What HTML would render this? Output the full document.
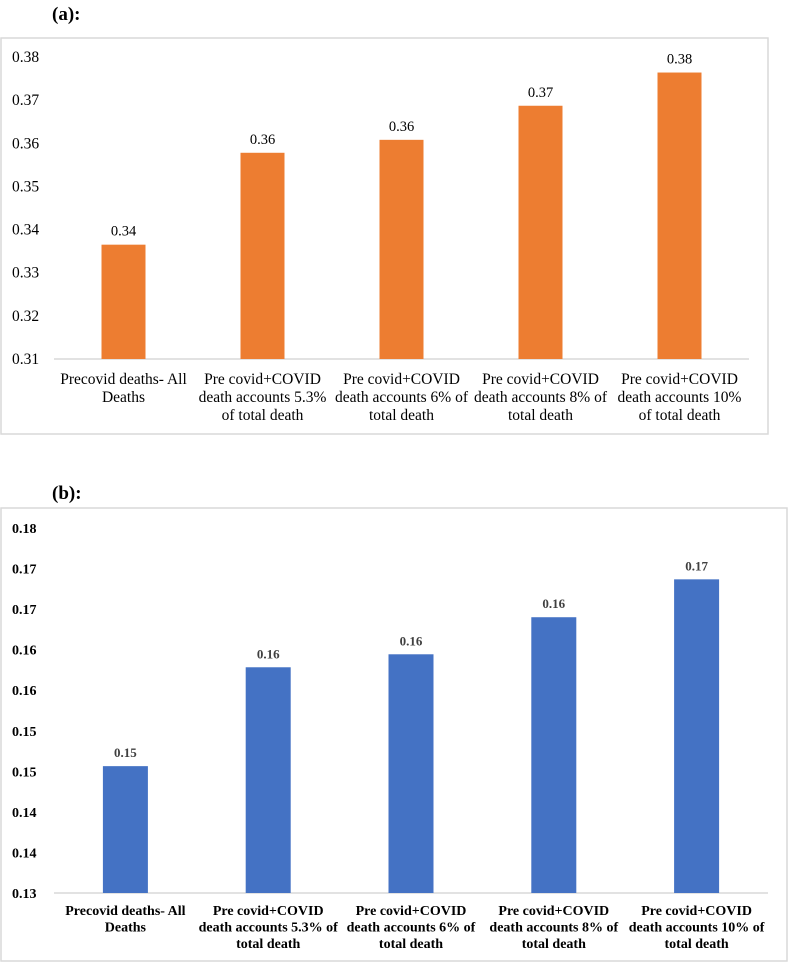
<!DOCTYPE html>
<html><head><meta charset="utf-8">
<style>
html,body{margin:0;padding:0;background:#fff;}
svg{display:block;}
text{font-family:"Liberation Serif",serif;}
</style></head>
<body>
<svg id="chart" width="788" height="963" viewBox="0 0 788 963" xmlns="http://www.w3.org/2000/svg">
<text x="52" y="20" font-size="19" font-weight="bold" fill="#000">(a):</text>
<rect x="1" y="38" width="767" height="396" fill="#fff" stroke="#d9d9d9" stroke-width="1.5"/>
<text x="52" y="499" font-size="19" font-weight="bold" fill="#000">(b):</text>
<rect x="1" y="508" width="786" height="453" fill="#fff" stroke="#d9d9d9" stroke-width="1.5"/>
<g id="ga"></g>
<g id="gb"></g>
</svg>
<script>
const categoriesA = [
  ["Precovid deaths- All","Deaths"],
  ["Pre covid+COVID","death accounts 5.3%","of total death"],
  ["Pre covid+COVID","death accounts 6% of","total death"],
  ["Pre covid+COVID","death accounts 8% of","total death"],
  ["Pre covid+COVID","death accounts 10%","of total death"]
];
const valuesA = [0.3365, 0.3578, 0.3608, 0.3687, 0.3764];
const ticksA = [0.31, 0.32, 0.33, 0.34, 0.35, 0.36, 0.37, 0.38];
const tickLabelsA = ["0.31","0.32","0.33","0.34","0.35","0.36","0.37","0.38"];

const categoriesB = [
  ["Precovid deaths- All","Deaths"],
  ["Pre covid+COVID","death accounts 5.3% of","total death"],
  ["Pre covid+COVID","death accounts 6% of","total death"],
  ["Pre covid+COVID","death accounts 8% of","total death"],
  ["Pre covid+COVID","death accounts 10% of","total death"]
];
const valuesB = [0.14564, 0.15783, 0.15943, 0.1640, 0.16867];
const ticksB = [0.13, 0.135, 0.14, 0.145, 0.15, 0.155, 0.16, 0.165, 0.17, 0.175];
const tickLabelsB = ["0.13","0.14","0.14","0.15","0.15","0.16","0.16","0.17","0.17","0.18"];

const NS = "http://www.w3.org/2000/svg";
function mk(parent, tag, attrs, txt){
  const e = document.createElementNS(NS, tag);
  for (const k in attrs) e.setAttribute(k, attrs[k]);
  if (txt !== undefined) e.textContent = txt;
  parent.appendChild(e);
  return e;
}

function drawChart(g, cfg, cats, vals, ticks, tickLabels){
  const yScale = v => cfg.y0 - (v - cfg.vmin) / (cfg.vmax - cfg.vmin) * (cfg.y0 - cfg.y1);
  const bw = (cfg.x1 - cfg.x0) / cats.length;
  const xCenter = i => cfg.x0 + bw * (i + 0.5);
  ticks.forEach((t, k) => {
    const lbl = mk(g, "text", {x: 12, y: yScale(t) + 5, "font-size": cfg.fs, "font-weight": cfg.bold ? "bold" : "normal", fill: "#000"}, tickLabels[k]);
    
    
  });
  const axis = mk(g, "line", {x1: cfg.x0, x2: cfg.x1, y1: cfg.y0, y2: cfg.y0, stroke: "#d9d9d9", "stroke-width": 1.5});
  
  
  vals.forEach((v, i) => {
    const cx = xCenter(i);
    const top = yScale(v);
    const bar = mk(g, "rect", {x: cx - cfg.barW / 2, y: top, width: cfg.barW, height: cfg.y0 - top, fill: cfg.color});
    
    
    const vl = mk(g, "text", {x: cx, y: top - 9, "text-anchor": "middle", "font-size": cfg.fs - 1, "font-weight": cfg.bold ? "bold" : "normal", fill: cfg.valColor}, v.toFixed(2));
    
    
    cats[i].forEach((line, j) => {
      const cl = mk(g, "text", {x: cx, y: cfg.catY + j * cfg.lh, "text-anchor": "middle", "font-size": cfg.fs, "font-weight": cfg.bold ? "bold" : "normal", fill: "#000"}, line);
      
      
    });
  });
}

drawChart(document.getElementById("ga"),
  {x0: 54, x1: 749, y0: 359, y1: 57, vmin: 0.31, vmax: 0.38, barW: 44, color: "#ED7D31", valColor: "#000", fs: 15.5, bold: false, catY: 384, lh: 18},
  categoriesA, valuesA, ticksA, tickLabelsA);
drawChart(document.getElementById("gb"),
  {x0: 54, x1: 768, y0: 893, y1: 528, vmin: 0.13, vmax: 0.175, barW: 45, color: "#4472C4", valColor: "#404040", fs: 14, bold: true, catY: 915, lh: 16.5},
  categoriesB, valuesB, ticksB, tickLabelsB);
</script>
</body></html>
